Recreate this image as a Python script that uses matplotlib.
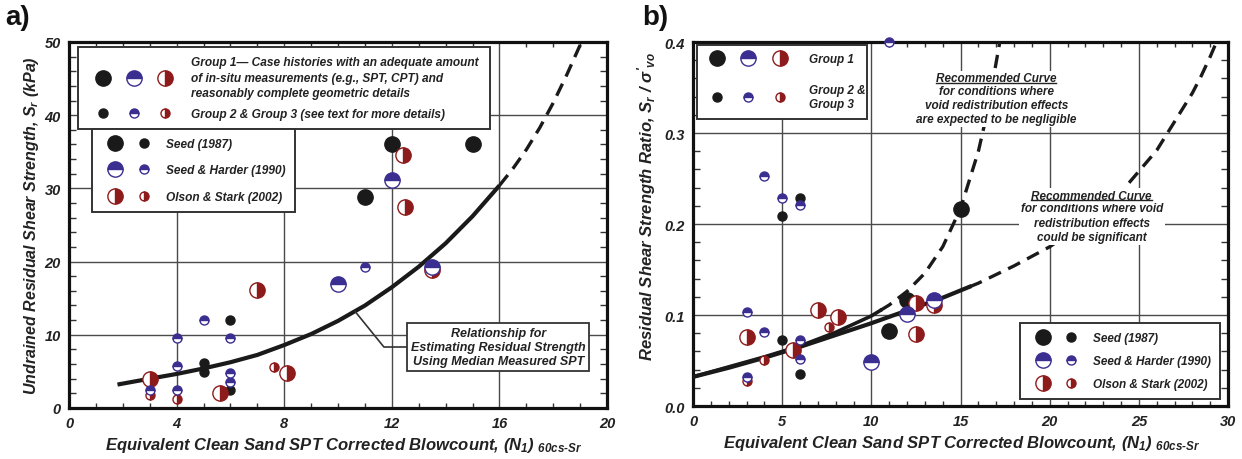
import matplotlib
matplotlib.use('Agg')
import matplotlib.pyplot as plt
from matplotlib.legend_handler import HandlerTuple
from matplotlib.lines import Line2D
from matplotlib.ticker import MultipleLocator

plt.rcParams['font.family'] = ['Liberation Sans', 'DejaVu Sans']
plt.rcParams['mathtext.fontset'] = 'custom'
plt.rcParams['mathtext.rm'] = 'Liberation Sans:italic:bold'
plt.rcParams['mathtext.it'] = 'Liberation Sans:italic:bold'
plt.rcParams['mathtext.bf'] = 'Liberation Sans:italic:bold'
plt.rcParams['mathtext.sf'] = 'Liberation Sans:italic:bold'

BLACK = '#1a1a1a'
BLUE = '#3b2e91'
RED = '#8e1b1b'
TEXT = '#222222'

# ---- panel a) : residual shear strength (kPa)
a_seed_g1_x = [12, 15, 11]
a_seed_g1_y = [36.0, 36.0, 28.8]
a_seed_g23_x = [6, 5, 5, 6]
a_seed_g23_y = [12.0, 6.2, 4.9, 2.4]
a_harder_g1_x = [12, 10, 13.5]
a_harder_g1_y = [31.2, 16.9, 19.2]
a_harder_g23_x = [11, 5, 4, 6, 4, 6, 6, 3, 4]
a_harder_g23_y = [19.3, 12.0, 9.6, 9.6, 5.8, 4.8, 3.6, 2.5, 2.5]
a_olson_g1_x = [12.4, 12.5, 13.5, 7, 3, 8.1, 5.6]
a_olson_g1_y = [34.6, 27.4, 18.8, 16.1, 4.0, 4.8, 2.0]
a_olson_g23_x = [7.6, 3, 4]
a_olson_g23_y = [5.6, 1.8, 1.2]

a_curve_x = [1.8, 3, 4, 5, 6, 7, 8, 9, 10, 11, 12, 13, 14, 15, 16]
a_curve_y = [3.2, 4.0, 4.65, 5.4, 6.25, 7.25, 8.6, 10.1, 11.9, 14.0, 16.5,
             19.3, 22.5, 26.2, 30.4]
a_dash_x = [16, 16.5, 17, 17.5, 18, 18.5, 19, 19.05]
a_dash_y = [30.4, 32.7, 35.3, 38.3, 41.7, 45.5, 49.6, 50.0]

# ---- panel b) : residual shear strength ratio
b_seed_g1_x = [15, 12, 11]
b_seed_g1_y = [0.216, 0.117, 0.082]
b_seed_g23_x = [6, 5, 5, 6]
b_seed_g23_y = [0.229, 0.209, 0.073, 0.035]
b_harder_g1_x = [12, 13.5, 10]
b_harder_g1_y = [0.101, 0.116, 0.048]
b_harder_g23_x = [11, 4, 5, 6, 3, 4, 6, 6, 3]
b_harder_g23_y = [0.400, 0.253, 0.229, 0.221, 0.103, 0.081, 0.072, 0.052,
                  0.032]
b_olson_g1_x = [3, 7, 8.1, 5.6, 12.5, 12.5, 13.5]
b_olson_g1_y = [0.076, 0.106, 0.098, 0.062, 0.079, 0.113, 0.111]
b_olson_g23_x = [7.6, 4, 3]
b_olson_g23_y = [0.087, 0.051, 0.028]

b_sig_x = [0, 2, 4, 6, 8, 10, 12, 14, 15.5]
b_sig_y = [0.032, 0.042, 0.053, 0.065, 0.078, 0.091, 0.105, 0.119, 0.131]
b_sig_dash_x = [15.5, 16, 18, 20, 22, 24, 26, 28, 28.5, 29, 29.35]
b_sig_dash_y = [0.131, 0.135, 0.154, 0.175, 0.202, 0.235, 0.281, 0.344,
                0.363, 0.384, 0.400]
b_neg_x = [0, 4, 6, 8, 10, 10.5]
b_neg_y = [0.032, 0.054, 0.066, 0.081, 0.099, 0.105]
b_neg_dash_x = [10.5, 11, 12, 13, 14, 15, 16, 16.5, 17, 17.2]
b_neg_dash_y = [0.105, 0.111, 0.126, 0.146, 0.175, 0.217, 0.280, 0.323,
                0.378, 0.400]

BIG = 11
SMALL = 6.5
FONT = dict(fontweight='bold', fontstyle='italic', color=TEXT)


def styles(size):
    seed = dict(marker='o', ms=size, mfc=BLACK, mec=BLACK, mew=1.0,
                ls='none')
    harder = dict(marker='o', ms=size, fillstyle='top', mfc=BLUE,
                  mfcalt='white', mec=BLUE, mew=1.0, ls='none')
    olson = dict(marker='o', ms=size, fillstyle='right', mfc=RED,
                 mfcalt='white', mec=RED, mew=1.0, ls='none')
    return seed, harder, olson


def plot_points(ax, data):
    big = styles(BIG)
    small = styles(SMALL)
    order = [0, 2, 1]
    for i in order:
        x1, y1, x2, y2 = data[i]
        ax.plot(x1, y1, zorder=5, clip_on=False, **big[i])
        ax.plot(x2, y2, zorder=5, clip_on=False, **small[i])


def setup_axes(ax, xmax, xstep, xminor, ymax, ystep, yminor, yfmt):
    ax.set_xlim(0, xmax)
    ax.set_ylim(0, ymax)
    ax.xaxis.set_major_locator(MultipleLocator(xstep))
    ax.yaxis.set_major_locator(MultipleLocator(ystep))
    ax.xaxis.set_minor_locator(MultipleLocator(xminor))
    ax.yaxis.set_minor_locator(MultipleLocator(yminor))
    ax.yaxis.set_major_formatter(plt.FormatStrFormatter(yfmt))
    ax.grid(True, which='major', color='#4a4a4a', lw=1.0, zorder=0)
    ax.set_axisbelow(True)
    ax.tick_params(which='major', length=0, pad=6, labelsize=10.5,
                   labelcolor=TEXT)
    ax.tick_params(axis='x', which='minor', direction='in', top=True,
                   bottom=True, length=3.5, width=1.0, color='#333')
    ax.tick_params(axis='y', which='minor', direction='in', left=True,
                   right=True, length=5, width=1.0, color='#333')
    for lab in ax.get_xticklabels() + ax.get_yticklabels():
        lab.set_fontweight('bold')
        lab.set_fontstyle('italic')
    for sp in ax.spines.values():
        sp.set_linewidth(2.3)
        sp.set_color('#111')


def finish_legend(leg, linespacing=1.2):
    leg.get_frame().set_linewidth(1.4)
    for t in leg.get_texts():
        t.set_color(TEXT)
        t.set_linespacing(linespacing)
    leg.set_zorder(10)
    return leg


def group_legend(ax, labels, anchor, fontsize, hlen, hpad, tpad, lspace,
                 bpad, linespacing):
    big = styles(BIG)
    small = styles(SMALL)
    h1 = tuple(Line2D([], [], **s) for s in big)
    h2 = tuple(Line2D([], [], **s) for s in small)
    leg = ax.legend([h1, h2], labels, loc='upper left',
                    bbox_to_anchor=anchor, mode='expand', borderaxespad=0,
                    handler_map={tuple: HandlerTuple(ndivide=None, pad=hpad)},
                    handlelength=hlen, handletextpad=tpad,
                    labelspacing=lspace, borderpad=bpad, fancybox=False,
                    framealpha=1, edgecolor='#333',
                    prop=dict(family='Liberation Sans', weight='bold',
                              style='italic', size=fontsize))
    return finish_legend(leg, linespacing)


def source_legend(ax, loc, anchor, fontsize, lspace):
    big = styles(BIG)
    small = styles(SMALL)
    labels = ['Seed (1987)', 'Seed & Harder (1990)', 'Olson & Stark (2002)']
    handles = []
    for i in range(3):
        handles.append((Line2D([], [], **big[i]), Line2D([], [], **small[i])))
    leg = ax.legend(handles, labels, loc=loc, bbox_to_anchor=anchor,
                    borderaxespad=0,
                    handler_map={tuple: HandlerTuple(ndivide=None, pad=0)},
                    handlelength=4.8, handletextpad=0.7,
                    labelspacing=lspace, borderpad=0.75, fancybox=False,
                    framealpha=1, edgecolor='#333',
                    prop=dict(family='Liberation Sans', weight='bold',
                              style='italic', size=fontsize))
    return finish_legend(leg)


fig = plt.figure(figsize=(12.42, 4.6), dpi=100)
ax_a = fig.add_axes([0.0556, 0.1109, 0.4332, 0.7957])
ax_b = fig.add_axes([0.558, 0.1152, 0.4308, 0.7913])

xlabel = ('Equivalent Clean Sand SPT Corrected Blowcount, '
          r'$(N_1)$ ${}_{\text{60cs-Sr}}$')

# ---------------- panel a
setup_axes(ax_a, 20, 4, 1, 50, 10, 2, '%d')
ax_a.plot(a_curve_x, a_curve_y, color=BLACK, lw=3.0, zorder=3,
          solid_capstyle='butt')
ax_a.plot(a_dash_x, a_dash_y, color=BLACK, lw=2.4, zorder=3,
          dashes=(4, 2.4))
plot_points(ax_a, [
    (a_seed_g1_x, a_seed_g1_y, a_seed_g23_x, a_seed_g23_y),
    (a_harder_g1_x, a_harder_g1_y, a_harder_g23_x, a_harder_g23_y),
    (a_olson_g1_x, a_olson_g1_y, a_olson_g23_x, a_olson_g23_y),
])
leg1 = group_legend(
    ax_a,
    ['Group 1\u2014 Case histories with an adequate amount\n'
     'of in-situ measurements (e.g., SPT, CPT) and\n'
     'reasonably complete geometric details',
     'Group 2 & Group 3 (see text for more details)'],
    (0.0173, 0.0, 0.765, 0.9855), 8.6, 7.8, 0, 0.86, 0.75, 0.75, 1.38)
ax_a.add_artist(leg1)
source_legend(ax_a, 'upper left', (0.042, 0.762), 8.6, 1.2)
ax_a.annotate('Relationship for\nEstimating Residual Strength\n'
              'Using Median Measured SPT',
              xy=(10.63, 13.2), xytext=(15.95, 8.33), ha='center',
              va='center', multialignment='center', fontsize=9,
              bbox=dict(boxstyle='square,pad=0.3', fc='white', ec='#333',
                        lw=1.3),
              arrowprops=dict(arrowstyle='-', color='#333', lw=1.2,
                              shrinkA=0, shrinkB=0,
                              connectionstyle='angle,angleA=180,'
                                              'angleB=-51,rad=0'),
              zorder=9, **FONT)
ax_a.set_xlabel(xlabel, fontsize=12, **FONT)
ax_a.set_ylabel('Undrained Residual Shear Strength, $S_r$ (kPa)',
                fontsize=11.5, **FONT)
ax_a.xaxis.set_label_coords(0.511, -0.075)
ax_a.yaxis.set_label_coords(-0.052, 0.5)

# ---------------- panel b
setup_axes(ax_b, 30, 5, 1, 0.4, 0.1, 0.02, '%.1f')
ax_b.plot(b_sig_x, b_sig_y, color=BLACK, lw=3.0, zorder=3)
ax_b.plot(b_neg_x, b_neg_y, color=BLACK, lw=2.6, zorder=3)
ax_b.plot(b_sig_dash_x, b_sig_dash_y, color=BLACK, lw=2.4, zorder=3,
          dashes=(4, 2.4))
ax_b.plot(b_neg_dash_x, b_neg_dash_y, color=BLACK, lw=2.4, zorder=3,
          dashes=(4, 2.4))
plot_points(ax_b, [
    (b_seed_g1_x, b_seed_g1_y, b_seed_g23_x, b_seed_g23_y),
    (b_harder_g1_x, b_harder_g1_y, b_harder_g23_x, b_harder_g23_y),
    (b_olson_g1_x, b_olson_g1_y, b_olson_g23_x, b_olson_g23_y),
])
leg2 = group_legend(ax_b, ['Group 1', 'Group 2 &\nGroup 3'],
                    (0.008, 0.0, 0.317, 0.993), 8.5, 7.17, 0.71, 1.58, 1.55,
                    0.75, 1.3)
ax_b.add_artist(leg2)
source_legend(ax_b, 'lower right', (0.985, 0.019), 8.5, 0.95)

notes = [
    (17.0, 0.360, 0.331, 'for conditions where\nvoid redistribution effects\n'
                         'are expected to be negligible'),
    (22.35, 0.231, 0.2015, 'for conditions where void\nredistribution effects\n'
                           'could be significant'),
]
heads = []
for x, yh, yb, body in notes:
    ax_b.text(x, yb, body, ha='center', va='center', multialignment='center',
              fontsize=8.5, zorder=8, linespacing=1.25,
              bbox=dict(boxstyle='square,pad=0.15', fc='white', ec='none'),
              **FONT)
    heads.append(ax_b.text(x, yh, 'Recommended Curve', ha='center',
                           va='center', fontsize=8.5, zorder=8,
                           bbox=dict(boxstyle='square,pad=0.15', fc='white',
                                     ec='none'),
                           **FONT))
ax_b.set_xlabel(xlabel, fontsize=12, **FONT)
ax_b.set_ylabel("Residual Shear Strength Ratio, $S_r$ / $\\sigma'_{vo}$",
                fontsize=12, **FONT)
ax_b.xaxis.set_label_coords(0.503, -0.075)
ax_b.yaxis.set_label_coords(-0.065, 0.55)

fig.text(0.004, 0.99, 'a)', fontsize=20, fontweight='bold', va='top',
         color='#111')
fig.text(0.517, 0.99, 'b)', fontsize=20, fontweight='bold', va='top',
         color='#111')

# underline the "Recommended Curve" headings
fig.canvas.draw()
inv = fig.transFigure.inverted()
for h in heads:
    bb = h.get_window_extent()
    (x0, y0), (x1, y1) = inv.transform([[bb.x0, bb.y0 + 1.5],
                                         [bb.x1, bb.y0 + 1.5]])
    fig.add_artist(Line2D([x0, x1], [y0, y1], color=TEXT, lw=1.0,
                          zorder=20))

fig.savefig('out.png', dpi=100)
